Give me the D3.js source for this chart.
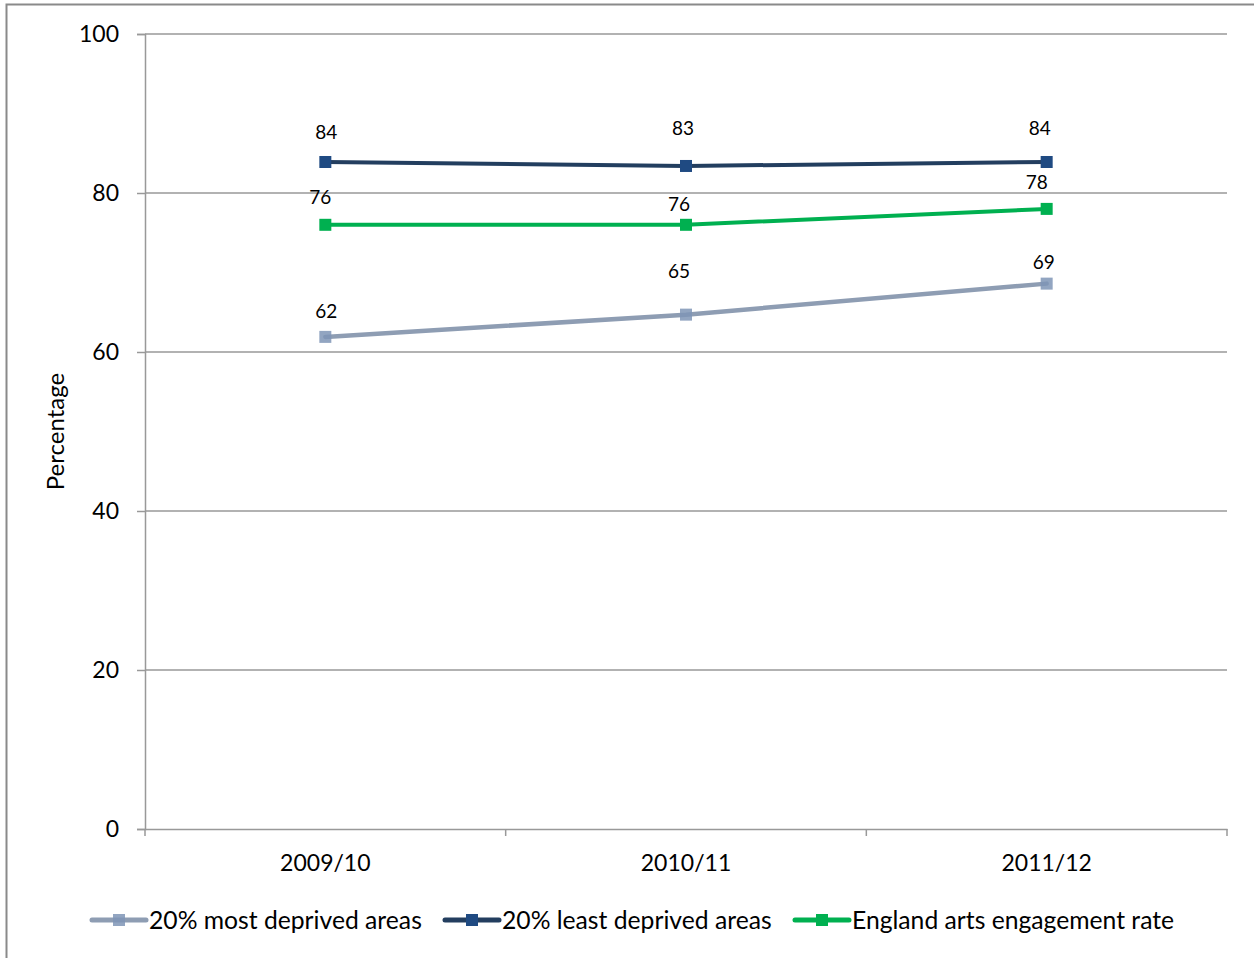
<!DOCTYPE html>
<html><head><meta charset="utf-8">
<script src="https://cdn.jsdelivr.net/npm/d3@7"></script>
<style>body{margin:0;background:#fff}svg{display:block}text{font-family:Lato,"Open Sans",sans-serif;fill:#000}</style>
</head><body><svg id="c" width="1254" height="958"></svg>
<script>
const categories = ["2009/10", "2010/11", "2011/12"];
const seriesNames = ["20% most deprived areas", "20% least deprived areas", "England arts engagement rate"];
const mostDeprived = [61.9, 64.7, 68.6];
const leastDeprived = [83.9, 83.4, 83.9];
const englandRate = [76.0, 76.0, 78.0];
const yTicks = [0, 20, 40, 60, 80, 100];
// label offsets (px) relative to each point, as placed in the original
const labelDx = [[1, -7, -3], [1, -3, -7], [-5, -7, -10]];
const labelDy = [[-19, -37, -15], [-23, -31, -27], [-21, -14, -20]];

const series = [
  {name: seriesNames[0], values: mostDeprived, line: "#8E9DB3", marker: "#7F95B6", mop: 0.85, width: 4.5},
  {name: seriesNames[1], values: leastDeprived, line: "#233E5F", marker: "#1F4A82", mop: 1, width: 4},
  {name: seriesNames[2], values: englandRate, line: "#00B050", marker: "#00B050", mop: 1, width: 4}
];

const svg = d3.select("#c");
svg.append("path").attr("d", "M6.5,958 V4.5 H1254").attr("fill", "none").attr("stroke", "#8a8a8a").attr("stroke-width", 2);

const L = 145, R = 1227, T = 34, B = 829;
const x = d3.scaleBand().domain(categories).range([L, R]).padding(0);
const y = d3.scaleLinear().domain([0, 100]).range([B, T]);

svg.append("g").selectAll("line").data(yTicks.filter(d => d > 0)).join("line")
  .attr("x1", L).attr("x2", R).attr("y1", d => y(d)).attr("y2", d => y(d))
  .attr("stroke", "#999").attr("stroke-width", 1.5);

const yAxis = svg.append("g").attr("transform", `translate(${L},0)`)
  .call(d3.axisLeft(y).tickValues(yTicks).tickSize(8).tickPadding(18));
yAxis.select(".domain").attr("stroke", "#999").attr("stroke-width", 1.5);
yAxis.selectAll(".tick line").attr("stroke", "#999").attr("stroke-width", 1.5);
yAxis.selectAll(".tick text").style("font-size", "23px").attr("font-family", "Lato");

const xAxis = svg.append("g").attr("transform", `translate(0,${B})`)
  .call(d3.axisBottom(x).tickSize(0).tickPadding(26));
xAxis.select(".domain").attr("stroke", "#999").attr("stroke-width", 1.5);
xAxis.selectAll(".tick text").style("font-size", "23px").attr("font-family", "Lato");
const bounds = [L].concat(categories.map(c => x(c) + x.bandwidth()));
svg.append("g").selectAll("line").data(bounds).join("line")
  .attr("x1", d => d).attr("x2", d => d).attr("y1", B).attr("y2", B + 7)
  .attr("stroke", "#999").attr("stroke-width", 1.5);

svg.append("text").attr("transform", `translate(64,${(T + B) / 2}) rotate(-90)`)
  .attr("text-anchor", "middle").style("font-size", "24px").text("Percentage");

const cx = c => x(c) + x.bandwidth() / 2;
const lineGen = d3.line().x((d, i) => cx(categories[i])).y(d => y(d));

series.forEach((s, si) => {
  const g = svg.append("g");
  g.append("path").attr("d", lineGen(s.values)).attr("fill", "none")
    .attr("stroke", s.line).attr("stroke-width", s.width).attr("stroke-linecap", "round");
  g.selectAll("rect").data(s.values).join("rect")
    .attr("x", (d, i) => cx(categories[i]) - 6).attr("y", d => y(d) - 6)
    .attr("width", 12).attr("height", 12).attr("fill", s.marker).attr("fill-opacity", s.mop);
  g.selectAll("text").data(s.values).join("text")
    .attr("x", (d, i) => cx(categories[i]) + labelDx[si][i])
    .attr("y", (d, i) => y(d) + labelDy[si][i])
    .attr("text-anchor", "middle").style("font-size", "19px")
    .text(d => d3.format(".0f")(d));
});

const legendX = [92, 445, 795];
const lg = svg.append("g").attr("transform", "translate(0,920)");
series.forEach((s, i) => {
  const g = lg.append("g").attr("transform", `translate(${legendX[i]},0)`);
  g.append("line").attr("x1", 0).attr("x2", 54).attr("stroke", s.line).attr("stroke-width", 5).attr("stroke-linecap", "round");
  g.append("rect").attr("x", 21).attr("y", -6).attr("width", 12).attr("height", 12).attr("fill", s.marker).attr("fill-opacity", s.mop);
  g.append("text").attr("x", 57).attr("y", 9).style("font-size", "24.7px").text(s.name);
});
</script></body></html>
